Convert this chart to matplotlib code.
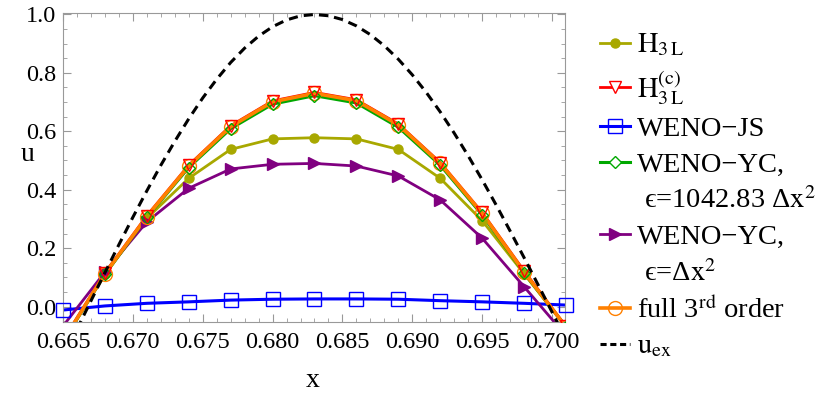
import matplotlib
matplotlib.use("Agg")
import matplotlib.pyplot as plt
from matplotlib.lines import Line2D
from matplotlib.ticker import MultipleLocator

plt.rcParams["font.family"] = ["Liberation Serif", "DejaVu Serif"]
plt.rcParams["mathtext.fontset"] = "stix"
plt.rcParams["font.size"] = 17.5

# grid points of the numerical solutions
x_pts = [0.665, 0.668, 0.671, 0.674, 0.677, 0.680, 0.683,
         0.686, 0.689, 0.692, 0.695, 0.698, 0.701]

h3l = [-0.120, 0.110, 0.302, 0.439, 0.538, 0.574, 0.578,
       0.574, 0.538, 0.439, 0.294, 0.112, -0.070]
h3l_c = [-0.115, 0.115, 0.311, 0.484, 0.619, 0.704, 0.733,
         0.708, 0.625, 0.493, 0.322, 0.122, -0.068]
weno_js = [-0.012, 0.002, 0.011, 0.016, 0.022, 0.025, 0.026,
           0.026, 0.025, 0.020, 0.016, 0.011, 0.005]
weno_yc_big = [-0.120, 0.110, 0.305, 0.476, 0.609, 0.693, 0.722,
               0.697, 0.614, 0.484, 0.314, 0.115, -0.070]
weno_yc_dx2 = [-0.067, 0.118, 0.290, 0.405, 0.471, 0.487, 0.490,
               0.481, 0.447, 0.365, 0.234, 0.068, -0.100]
full3 = [-0.118, 0.112, 0.308, 0.481, 0.616, 0.701, 0.730,
         0.705, 0.622, 0.490, 0.319, 0.118, -0.070]

# exact solution
x_ex = [0.666, 0.667, 0.668, 0.669, 0.670, 0.671, 0.672, 0.673, 0.674,
        0.675, 0.676, 0.677, 0.678, 0.679, 0.680, 0.681, 0.682, 0.683,
        0.684, 0.685, 0.686, 0.687, 0.688, 0.689, 0.690, 0.691, 0.692,
        0.693, 0.694, 0.695, 0.696, 0.697, 0.698, 0.699, 0.700, 0.701]
u_ex = [-0.0775, 0.0194, 0.1160, 0.2117, 0.3056, 0.3961, 0.4835, 0.5655, 0.6428,
        0.7140, 0.7782, 0.8356, 0.8847, 0.9257, 0.9580, 0.9813, 0.9953, 1.0,
        0.9956, 0.9826, 0.9609, 0.9309, 0.8927, 0.8467, 0.7934, 0.7331, 0.6664,
        0.5937, 0.5161, 0.4339, 0.3479, 0.2588, 0.1675, 0.0748, -0.0187, -0.1120]

OLIVE = "#A8A800"
RED = "#FF0000"
BLUE = "#0000FF"
GREEN = "#00A800"
PURPLE = "#800080"
ORANGE = "#FF8000"

fig = plt.figure(figsize=(8.3, 3.97), dpi=100)
ax = fig.add_axes([63 / 830, 1 - 322 / 397, 502 / 830, 308.7 / 397])

# lines first
ax.plot(x_pts, weno_js, color=BLUE, lw=2.2, zorder=2)
ax.plot(x_pts, h3l, color=OLIVE, lw=2.0, zorder=2)
ax.plot(x_pts, weno_yc_dx2, color=PURPLE, lw=2.0, zorder=2)
ax.plot(x_pts, h3l_c, color=RED, lw=2.0, zorder=2)
ax.plot(x_pts, weno_yc_big, color=GREEN, lw=2.2, zorder=2)
ax.plot(x_pts, full3, color=ORANGE, lw=2.6, zorder=2)

# markers on top
ax.plot(x_pts, h3l, ls="none", marker="o", ms=6.5, color=OLIVE, zorder=3)
ax.plot(x_pts, weno_yc_dx2, ls="none", marker=">", ms=9, color=PURPLE, zorder=3)
ax.plot(x_pts, weno_js, ls="none", marker="s", ms=9.5, mfc="none", mec=BLUE,
        mew=1.0, zorder=3, clip_on=False)
ax.plot(x_pts, full3, ls="none", marker="o", ms=10, mfc="none", mec=ORANGE,
        mew=1.0, zorder=3)
ax.plot(x_pts, weno_yc_big, ls="none", marker="D", ms=6.5, mfc="none", mec=GREEN,
        mew=1.0, zorder=3)
ax.plot(x_pts, h3l_c, ls="none", marker="v", ms=9, mfc="none", mec=RED,
        mew=1.0, zorder=3)

ax.plot(x_ex, u_ex, color="black", lw=2.2, dashes=(3, 2), zorder=4)

ax.set_xlim(0.665, 0.70093)
ax.set_ylim(-0.053, 1.004)
ax.xaxis.set_major_locator(MultipleLocator(0.005))
ax.xaxis.set_minor_locator(MultipleLocator(0.001))
ax.yaxis.set_major_locator(MultipleLocator(0.2))
ax.yaxis.set_minor_locator(MultipleLocator(0.05))
ax.xaxis.set_major_formatter(plt.FormatStrFormatter("%.3f"))
ax.yaxis.set_major_formatter(plt.FormatStrFormatter("%.1f"))
ax.tick_params(which="both", direction="in", top=True, right=True, color="#999999")
ax.tick_params(which="major", length=6, width=0.8)
ax.tick_params(which="minor", length=3, width=0.6)
ax.tick_params(axis="x", pad=7)
ax.tick_params(axis="y", pad=5)
for sp in ax.spines.values():
    sp.set_color("#999999")
    sp.set_linewidth(0.8)

ax.set_xlabel("x", fontsize=20, va="center")
ax.xaxis.set_label_coords(0.498, -0.19)
ax.set_ylabel("u", fontsize=20, rotation=0, va="center", ha="center")
ax.yaxis.set_label_coords(-0.07, 0.541)

NOLINE = Line2D([], [], color="none")
handles = [
    Line2D([], [], color=OLIVE, lw=2.0, marker="o", ms=6.5),
    Line2D([], [], color=RED, lw=2.0, marker="v", ms=9, mfc="white", mec=RED, mew=1.0),
    Line2D([], [], color=BLUE, lw=2.2, marker="s", ms=9.5, mfc="none", mec=BLUE, mew=1.0),
    Line2D([], [], color=GREEN, lw=2.2, marker="D", ms=6.5, mfc="white", mec=GREEN, mew=1.0),
    NOLINE,
    Line2D([], [], color=PURPLE, lw=2.0, marker=">", ms=9),
    NOLINE,
    Line2D([], [], color=ORANGE, lw=2.6, marker="o", ms=10, mfc="none", mec=ORANGE, mew=1.0),
    Line2D([], [], color="black", lw=2.2, dashes=(2, 1.2)),
]
labels = [
    r"$\mathrm{H}_{3\,\mathrm{L}}$",
    r"$\mathrm{H}_{3\,\mathrm{L}}^{(\mathrm{c})}$",
    "WENO\u2212JS",
    "WENO\u2212YC,",
    " \u03f5=1042.83 \u0394" + r"$\mathrm{x}^2$",
    "WENO\u2212YC,",
    " \u03f5=\u0394" + r"$\mathrm{x}^2$",
    r"full 3$^{\mathrm{rd}}$ order",
    r"$\mathrm{u}_{\mathrm{ex}}$",
]
leg = fig.legend(handles, labels, loc="upper left", bbox_to_anchor=(600 / 830, 1 - 32 / 397),
                 frameon=False, borderpad=0, borderaxespad=0, handlelength=1.06,
                 handletextpad=0.25, labelspacing=0.34, fontsize=20.5)

fig.savefig("out.png", dpi=100)
